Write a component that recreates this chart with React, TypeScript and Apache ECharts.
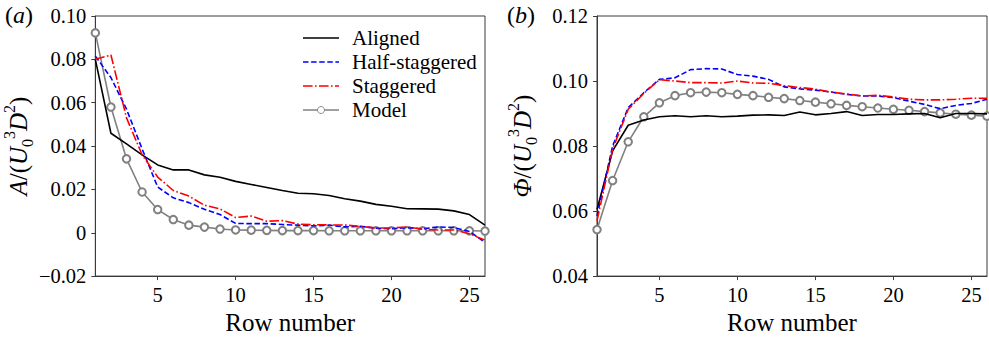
import React, { useEffect, useRef } from "react";
import * as echarts from "echarts";

const rows = Array.from({ length: 26 }, (_, i) => i + 1);

// Panel (a): A/(U0^3 D^2)
const alignedA = [0.080, 0.0459, 0.041, 0.0359, 0.0313, 0.029, 0.029, 0.0267, 0.0256, 0.0237, 0.0223, 0.0209, 0.0195, 0.0182, 0.018, 0.0172, 0.0157, 0.0146, 0.0131, 0.0122, 0.0111, 0.011, 0.0109, 0.0101, 0.0084, 0.0035];
const halfA = [0.0815, 0.0716, 0.057, 0.0387, 0.0211, 0.0161, 0.0139, 0.0108, 0.0084, 0.0043, 0.0042, 0.0042, 0.0038, 0.0035, 0.0032, 0.0035, 0.0027, 0.003, 0.0021, 0.0018, 0.0024, 0.0018, 0.0027, 0.0024, 0.0006, -0.0044];
const staggA = [0.080, 0.082, 0.053, 0.036, 0.0257, 0.0195, 0.0169, 0.0127, 0.011, 0.007, 0.0077, 0.0053, 0.0056, 0.004, 0.0037, 0.0036, 0.0036, 0.0029, 0.0022, 0.0022, 0.0027, 0.0016, 0.0013, 0.0013, -0.0005, -0.0034];
const modelA = [0.0922, 0.058, 0.0341, 0.0188, 0.0107, 0.0061, 0.0035, 0.0026, 0.0017, 0.0013, 0.0012, 0.0011, 0.001, 0.001, 0.001, 0.0009, 0.0009, 0.0009, 0.0009, 0.0009, 0.0009, 0.0009, 0.0009, 0.0009, 0.0009, 0.0008];

// Panel (b): Phi/(U0^3 D^2)
const alignedB = [0.0605, 0.0785, 0.0864, 0.088, 0.089, 0.0893, 0.089, 0.0893, 0.089, 0.0892, 0.0895, 0.0896, 0.0894, 0.0905, 0.0896, 0.09, 0.0906, 0.0894, 0.0897, 0.0897, 0.0899, 0.09, 0.0887, 0.09, 0.09, 0.0899];
const halfB = [0.0585, 0.080, 0.0918, 0.0964, 0.1005, 0.101, 0.1035, 0.1038, 0.1037, 0.102, 0.1015, 0.1005, 0.0982, 0.0976, 0.0972, 0.0966, 0.0959, 0.0954, 0.0954, 0.0949, 0.0938, 0.0928, 0.0915, 0.0925, 0.0931, 0.0944];
const staggB = [0.057, 0.079, 0.0913, 0.0962, 0.1004, 0.100, 0.0995, 0.0995, 0.0994, 0.100, 0.0994, 0.0993, 0.0986, 0.098, 0.0975, 0.0966, 0.096, 0.0954, 0.0956, 0.0951, 0.0944, 0.0942, 0.0942, 0.0944, 0.0947, 0.0947];
const modelB = [0.0543, 0.0694, 0.0813, 0.089, 0.0933, 0.0955, 0.0964, 0.0966, 0.0964, 0.0959, 0.0955, 0.095, 0.0946, 0.094, 0.0935, 0.093, 0.0925, 0.0921, 0.0917, 0.0913, 0.091, 0.0906, 0.0902, 0.0898, 0.0895, 0.0892];

const seriesNames = ["Aligned", "Half-staggered", "Staggered", "Model"];
const xTicks = [5, 10, 15, 20, 25];
const yTicksA = [-0.02, 0, 0.02, 0.04, 0.06, 0.08, 0.1];
const yLabelsA = ["\u22120.02", "0", "0.02", "0.04", "0.06", "0.08", "0.10"];
const yTicksB = [0.04, 0.06, 0.08, 0.1, 0.12];
const yLabelsB = ["0.04", "0.06", "0.08", "0.10", "0.12"];

const FONT = "Liberation Serif";
const AX = "#3a3a3a";

const STYLES: Record<string, { color: string; dash: number[] | "solid"; symbol: boolean }> = {
  Aligned: { color: "#000000", dash: "solid", symbol: false },
  "Half-staggered": { color: "#0000ff", dash: [5.5, 2.6], symbol: false },
  Staggered: { color: "#ff0000", dash: [9.6, 2.4, 1.6, 2.4], symbol: false },
  Model: { color: "#808080", dash: "solid", symbol: true },
};

function labelFor(ticks: number[], labels: string[]) {
  return (v: number) => {
    const i = ticks.findIndex((t) => Math.abs(t - v) < 1e-9);
    return i >= 0 ? labels[i] : "";
  };
}

const richName = {
  n: { fontFamily: FONT, fontSize: 25, color: "#000", lineHeight: 34, verticalAlign: "middle" },
  i: { fontFamily: FONT, fontSize: 25, fontStyle: "italic", color: "#000", lineHeight: 34, verticalAlign: "middle" },
  sup: { fontFamily: FONT, fontSize: 16, color: "#000", lineHeight: 34, verticalAlign: "top" },
  sub: { fontFamily: FONT, fontSize: 16, color: "#000", lineHeight: 34, verticalAlign: "bottom" },
};

function makeX(gridIndex: number) {
  return {
    type: "value",
    gridIndex,
    min: 1,
    max: 26,
    name: "Row number",
    nameLocation: "middle",
    nameGap: 33,
    nameTextStyle: { fontFamily: FONT, fontSize: 25, color: "#000" },
    axisLine: { show: true, onZero: false, lineStyle: { color: AX, width: 1 } },
    axisTick: { show: true, length: 4, inside: false, customValues: xTicks, lineStyle: { color: AX } },
    axisLabel: { customValues: xTicks, fontFamily: FONT, fontSize: 20.5, color: "#000", margin: 8 },
    splitLine: { show: false },
  };
}

function makeY(gridIndex: number, min: number, max: number, ticks: number[], labels: string[], nameText: string, gap: number) {
  return {
    type: "value",
    gridIndex,
    min,
    max,
    interval: 0.02,
    name: nameText,
    nameLocation: "middle",
    nameGap: gap,
    nameRotate: 90,
    nameTextStyle: { fontFamily: FONT, rich: richName },
    axisLine: { show: true, onZero: false, lineStyle: { color: AX, width: 1 } },
    axisTick: { show: true, length: 4, lineStyle: { color: AX } },
    axisLabel: { formatter: labelFor(ticks, labels), fontFamily: FONT, fontSize: 20.5, color: "#000", margin: 9 },
    splitLine: { show: false },
  };
}

function lineSeries(name: string, data: number[], idx: number) {
  const st = STYLES[name];
  const pts = rows.map((r, i) => [r, data[i]]);
  return {
    name,
    type: "line",
    xAxisIndex: idx,
    yAxisIndex: idx,
    data: pts,
    smooth: false,
    z: st.symbol ? 2 : 3,
    symbol: st.symbol ? "emptyCircle" : "none",
    symbolSize: 7.5,
    lineStyle: { color: st.color, width: 1.6, type: st.dash },
    itemStyle: { color: st.color, borderColor: st.color, borderWidth: 0.9 },
  };
}

function legendGraphics() {
  const els: any[] = [];
  const x0 = 303;
  const x1 = 339;
  const ys = [38, 62, 86, 110];
  seriesNames.forEach((name, k) => {
    const st = STYLES[name];
    const y = ys[k];
    els.push({
      type: "line",
      shape: { x1: x0, y1: y, x2: x1, y2: y },
      style: { stroke: st.color, lineWidth: 1.6, lineDash: st.dash === "solid" ? null : st.dash },
      z: 10,
    });
    if (st.symbol) {
      els.push({
        type: "circle",
        shape: { cx: (x0 + x1) / 2, cy: y, r: 3.5 },
        style: { stroke: st.color, fill: "#ffffff", lineWidth: 0.9 },
        z: 11,
      });
    }
    els.push({
      type: "text",
      x: 352,
      y,
      style: { text: name, fontFamily: FONT, fontSize: 21, fill: "#000", verticalAlign: "middle", align: "left" },
      z: 10,
    });
  });
  return els;
}

export default function App() {
  const ref = useRef<HTMLDivElement>(null);
  useEffect(() => {
    if (!ref.current) return;
    const chart = echarts.init(ref.current, undefined, { renderer: "svg" });
    const nameA = "{i|A}{n|/(}{i|U}{sub|0}{sup|3}{i|D}{sup|2}{n|)}";
    const nameB = "{i|\u03A6}{n|/(}{i|U}{sub|0}{sup|3}{i|D}{sup|2}{n|)}";
    const panelRich = {
      n: { fontFamily: FONT, fontSize: 24, fill: "#000" },
      i: { fontFamily: FONT, fontSize: 24, fontStyle: "italic", fill: "#000" },
    };
    chart.setOption({
      animation: false,
      backgroundColor: "#ffffff",
      grid: [
        { left: 94, top: 16, width: 391, height: 262, show: true, borderColor: AX, borderWidth: 1, backgroundColor: "transparent" },
        { left: 597, top: 16, width: 390, height: 262, show: true, borderColor: AX, borderWidth: 1, backgroundColor: "transparent" },
      ],
      xAxis: [makeX(0), makeX(1)],
      yAxis: [
        makeY(0, -0.02, 0.1, yTicksA, yLabelsA, nameA, 60),
        makeY(1, 0.04, 0.12, yTicksB, yLabelsB, nameB, 58),
      ],
      graphic: [
        { type: "text", left: 5, top: 3, style: { text: "{n|(}{i|a}{n|)}", rich: panelRich } },
        { type: "text", left: 507, top: 3, style: { text: "{n|(}{i|b}{n|)}", rich: panelRich } },
        ...legendGraphics(),
      ],
      series: [
        lineSeries("Aligned", alignedA, 0),
        lineSeries("Half-staggered", halfA, 0),
        lineSeries("Staggered", staggA, 0),
        lineSeries("Model", modelA, 0),
        lineSeries("Aligned", alignedB, 1),
        lineSeries("Half-staggered", halfB, 1),
        lineSeries("Staggered", staggB, 1),
        lineSeries("Model", modelB, 1),
      ],
    });
    return () => chart.dispose();
  }, []);
  return <div ref={ref} style={{ width: 989, height: 340, position: "absolute", left: 0, top: 0 }} />;
}
